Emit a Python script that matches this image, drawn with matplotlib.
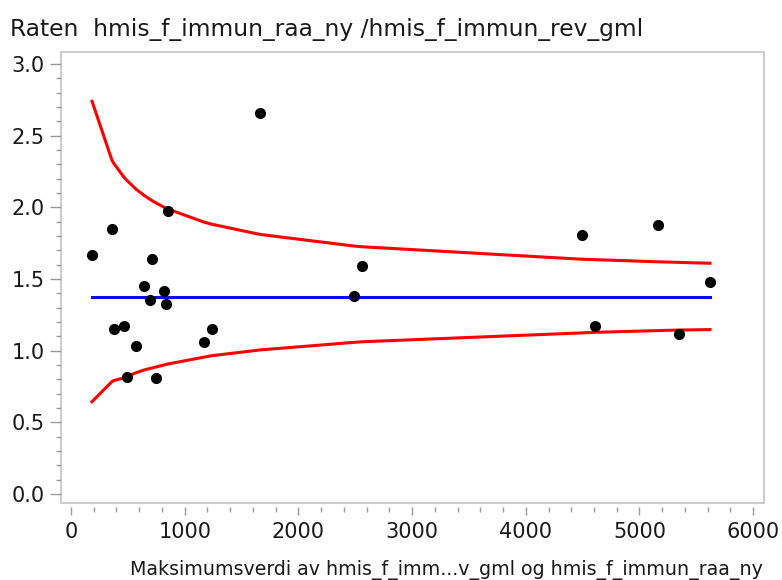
import matplotlib
matplotlib.use("Agg")
import matplotlib.pyplot as plt
from matplotlib.patches import Rectangle
from matplotlib.ticker import MultipleLocator

# Antall (maks av teller/nevner) og rate per enhet, sortert etter antall
antall = [185, 360, 378, 466, 493, 572, 642, 695, 712, 748, 818, 836,
          853, 1170, 1240, 1662, 2489, 2559, 4494, 4609, 5163, 5347, 5620]
rate = [1.666, 1.847, 1.149, 1.174, 0.819, 1.035, 1.454, 1.354, 1.638, 0.812,
        1.413, 1.326, 1.975, 1.063, 1.149, 2.657, 1.382, 1.593, 1.805, 1.175,
        1.875, 1.117, 1.481]

# Kontrollgrenser i samme punkter
ovre = [2.740, 2.329, 2.305, 2.210, 2.187, 2.127, 2.084, 2.056, 2.047, 2.031,
        2.001, 1.994, 1.988, 1.897, 1.882, 1.811, 1.730, 1.725, 1.638, 1.635,
        1.620, 1.616, 1.610]
nedre = [0.644, 0.784, 0.792, 0.810, 0.820, 0.846, 0.865, 0.876, 0.879, 0.886,
         0.900, 0.904, 0.907, 0.955, 0.965, 1.005, 1.058, 1.062, 1.124, 1.128,
         1.140, 1.144, 1.147]
snitt = 1.373

plt.rcParams['font.family'] = ['DejaVu Sans']
tekst = '#1a1a1a'
grå = '#9a9a9a'

fig = plt.figure(figsize=(7.82, 5.8), dpi=100)
ax = fig.add_axes([61/782, 1 - 503/580, 703/782, 451/580])

ax.plot(antall, ovre, color='#ff0000', lw=2.2, zorder=2)
ax.plot(antall, nedre, color='#ff0000', lw=2.2, zorder=2)
ax.plot([antall[0], antall[-1]], [snitt, snitt], color='#0a0aff', lw=2.2, zorder=2)
ax.plot(antall, rate, 'o', color='black', ms=7, zorder=3)

ax.set_xlim(-88, 6095)
ax.set_ylim(-0.063, 3.084)

ax.xaxis.set_major_locator(MultipleLocator(1000))
ax.xaxis.set_minor_locator(MultipleLocator(200))
ax.yaxis.set_major_locator(MultipleLocator(0.5))
ax.yaxis.set_minor_locator(MultipleLocator(0.1))
ax.yaxis.set_major_formatter(matplotlib.ticker.FormatStrFormatter('%.1f'))

for s in ax.spines.values():
    s.set_visible(False)
ax.spines['bottom'].set_position(('outward', 3))
ax.add_patch(Rectangle((0, 0), 1, 1, transform=ax.transAxes, fill=False,
                       ec='#c8c8c8', lw=1.3, clip_on=False, zorder=1))

ax.tick_params(axis='both', which='both', color=grå, width=1, labelcolor=tekst,
               labelsize=15)
ax.tick_params(axis='y', which='major', length=8, pad=4)
ax.tick_params(axis='x', which='major', length=6, pad=5)
ax.tick_params(axis='both', which='minor', length=3.6)

fig.text(10/782, 1 - 36/580, 'Raten  hmis_f_immun_raa_ny /hmis_f_immun_rev_gml',
         fontsize=16.8, color=tekst, ha='left', va='baseline')
fig.text(446/782, 5/580,
         'Maksimumsverdi av hmis_f_imm...v_gml og hmis_f_immun_raa_ny',
         fontsize=13.7, color=tekst, ha='center', va='baseline')

fig.savefig('out.png', dpi=100)
